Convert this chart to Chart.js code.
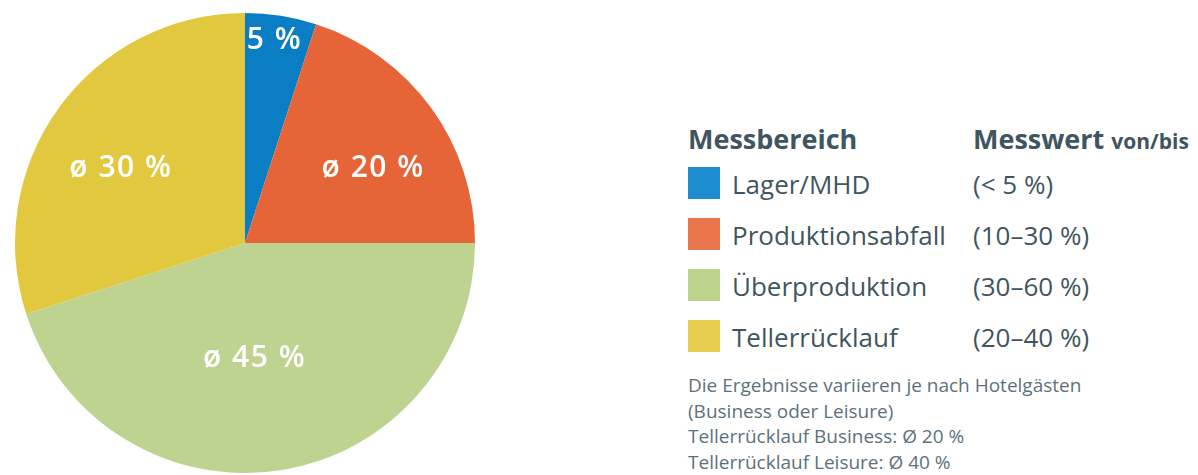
<!DOCTYPE html>
<html>
<head>
<meta charset="utf-8">
<script src="https://cdn.jsdelivr.net/npm/chart.js@4"></script>
<style>
  body { margin: 0; background: #fff; width: 1198px; height: 475px; position: relative; overflow: hidden; font-family: "Open Sans", sans-serif; color: #3f5661; }
  #pieBox { position: absolute; left: 15px; top: 13px; width: 460px; height: 460px; }
  .t { position: absolute; white-space: nowrap; line-height: 1; }
  .head { font-weight: 700; font-size: 27px; top: 125px; }
  .lab { font-size: 26px; }
  .sw { position: absolute; left: 688px; width: 32px; height: 32px; }
  #note { position: absolute; left: 688px; top: 373px; font-size: 19px; line-height: 25.5px; color: #5d717c; white-space: nowrap; }
</style>
</head>
<body>
<div id="pieBox"><canvas id="pie" width="460" height="460"></canvas></div>
<div id="legend"></div>
<div id="note"></div>
<script>
const categories = ["Lager/MHD", "Produktionsabfall", "Überproduktion", "Tellerrücklauf"];
const shares = [5, 20, 45, 30];
const sliceLabels = ["5 %", "ø 20 %", "ø 45 %", "ø 30 %"];
const ranges = ["(< 5 %)", "(10–30 %)", "(30–60 %)", "(20–40 %)"];
const noteLines = [
  "Die Ergebnisse variieren je nach Hotelgästen",
  "(Business oder Leisure)",
  "Tellerrücklauf Business: Ø 20 %",
  "Tellerrücklauf Leisure: Ø 40 %"
];

const pieColors = ["#0a7ec4", "#e56438", "#bed38f", "#e1c83f"];
const swatchColors = ["#1e8dd0", "#e9754d", "#bdd38e", "#e6cd50"];
// label placement: share of radius, and turn (degrees) from the slice middle
const labelRadius = [0.9, 0.65, 0.495, 0.635];
const labelTurn = [-0.8, 5, 4.2, -4.2];

const sliceText = {
  id: "sliceText",
  afterDatasetsDraw(chart) {
    const ctx = chart.ctx;
    const arcs = chart.getDatasetMeta(0).data;
    ctx.save();
    ctx.fillStyle = "#fff";
    ctx.font = "600 30px 'Open Sans'";
    ctx.letterSpacing = "1.5px";
    ctx.textAlign = "center";
    ctx.textBaseline = "alphabetic";
    arcs.forEach((arc, i) => {
      const p = arc.getProps(["x", "y", "startAngle", "endAngle", "outerRadius"], true);
      const mid = (p.startAngle + p.endAngle) / 2 + labelTurn[i] * Math.PI / 180;
      const r = p.outerRadius * labelRadius[i];
      const x = p.x + Math.cos(mid) * r;
      const y = p.y + Math.sin(mid) * r;
      ctx.fillText(sliceLabels[i], x, y + 10.7);
    });
    ctx.restore();
  },
};

new Chart(document.getElementById("pie"), {
  type: "pie",
  data: {
    labels: categories,
    datasets: [
      {
        data: shares,
        backgroundColor: pieColors,
        borderWidth: 0,
      },
    ],
  },
  options: {
    responsive: false,
    animation: false,
    layout: { padding: 0 },
    plugins: {
      legend: { display: false },
      tooltip: { enabled: false },
    },
  },
  plugins: [sliceText],
});

let legend = document.getElementById("legend");
let html = '<div class="t head" style="left:688px">Messbereich</div>' +
  '<div class="t head" style="left:973px">Messwert <span style="font-size:21px">von/bis</span></div>';
for (let i = 0; i < categories.length; i++) {
  let top = 171 + i * 51;
  html += '<div class="sw" style="top:' + (top - 4) + 'px;background:' + swatchColors[i] + '"></div>' +
    '<div class="t lab" style="left:732px;top:' + top + 'px">' + categories[i] + '</div>' +
    '<div class="t lab" style="left:973px;top:' + top + 'px">' + ranges[i] + "</div>";
}
legend.innerHTML = html;
document.getElementById("note").innerHTML = noteLines.join("<br>");
</script>
</body>
</html>
